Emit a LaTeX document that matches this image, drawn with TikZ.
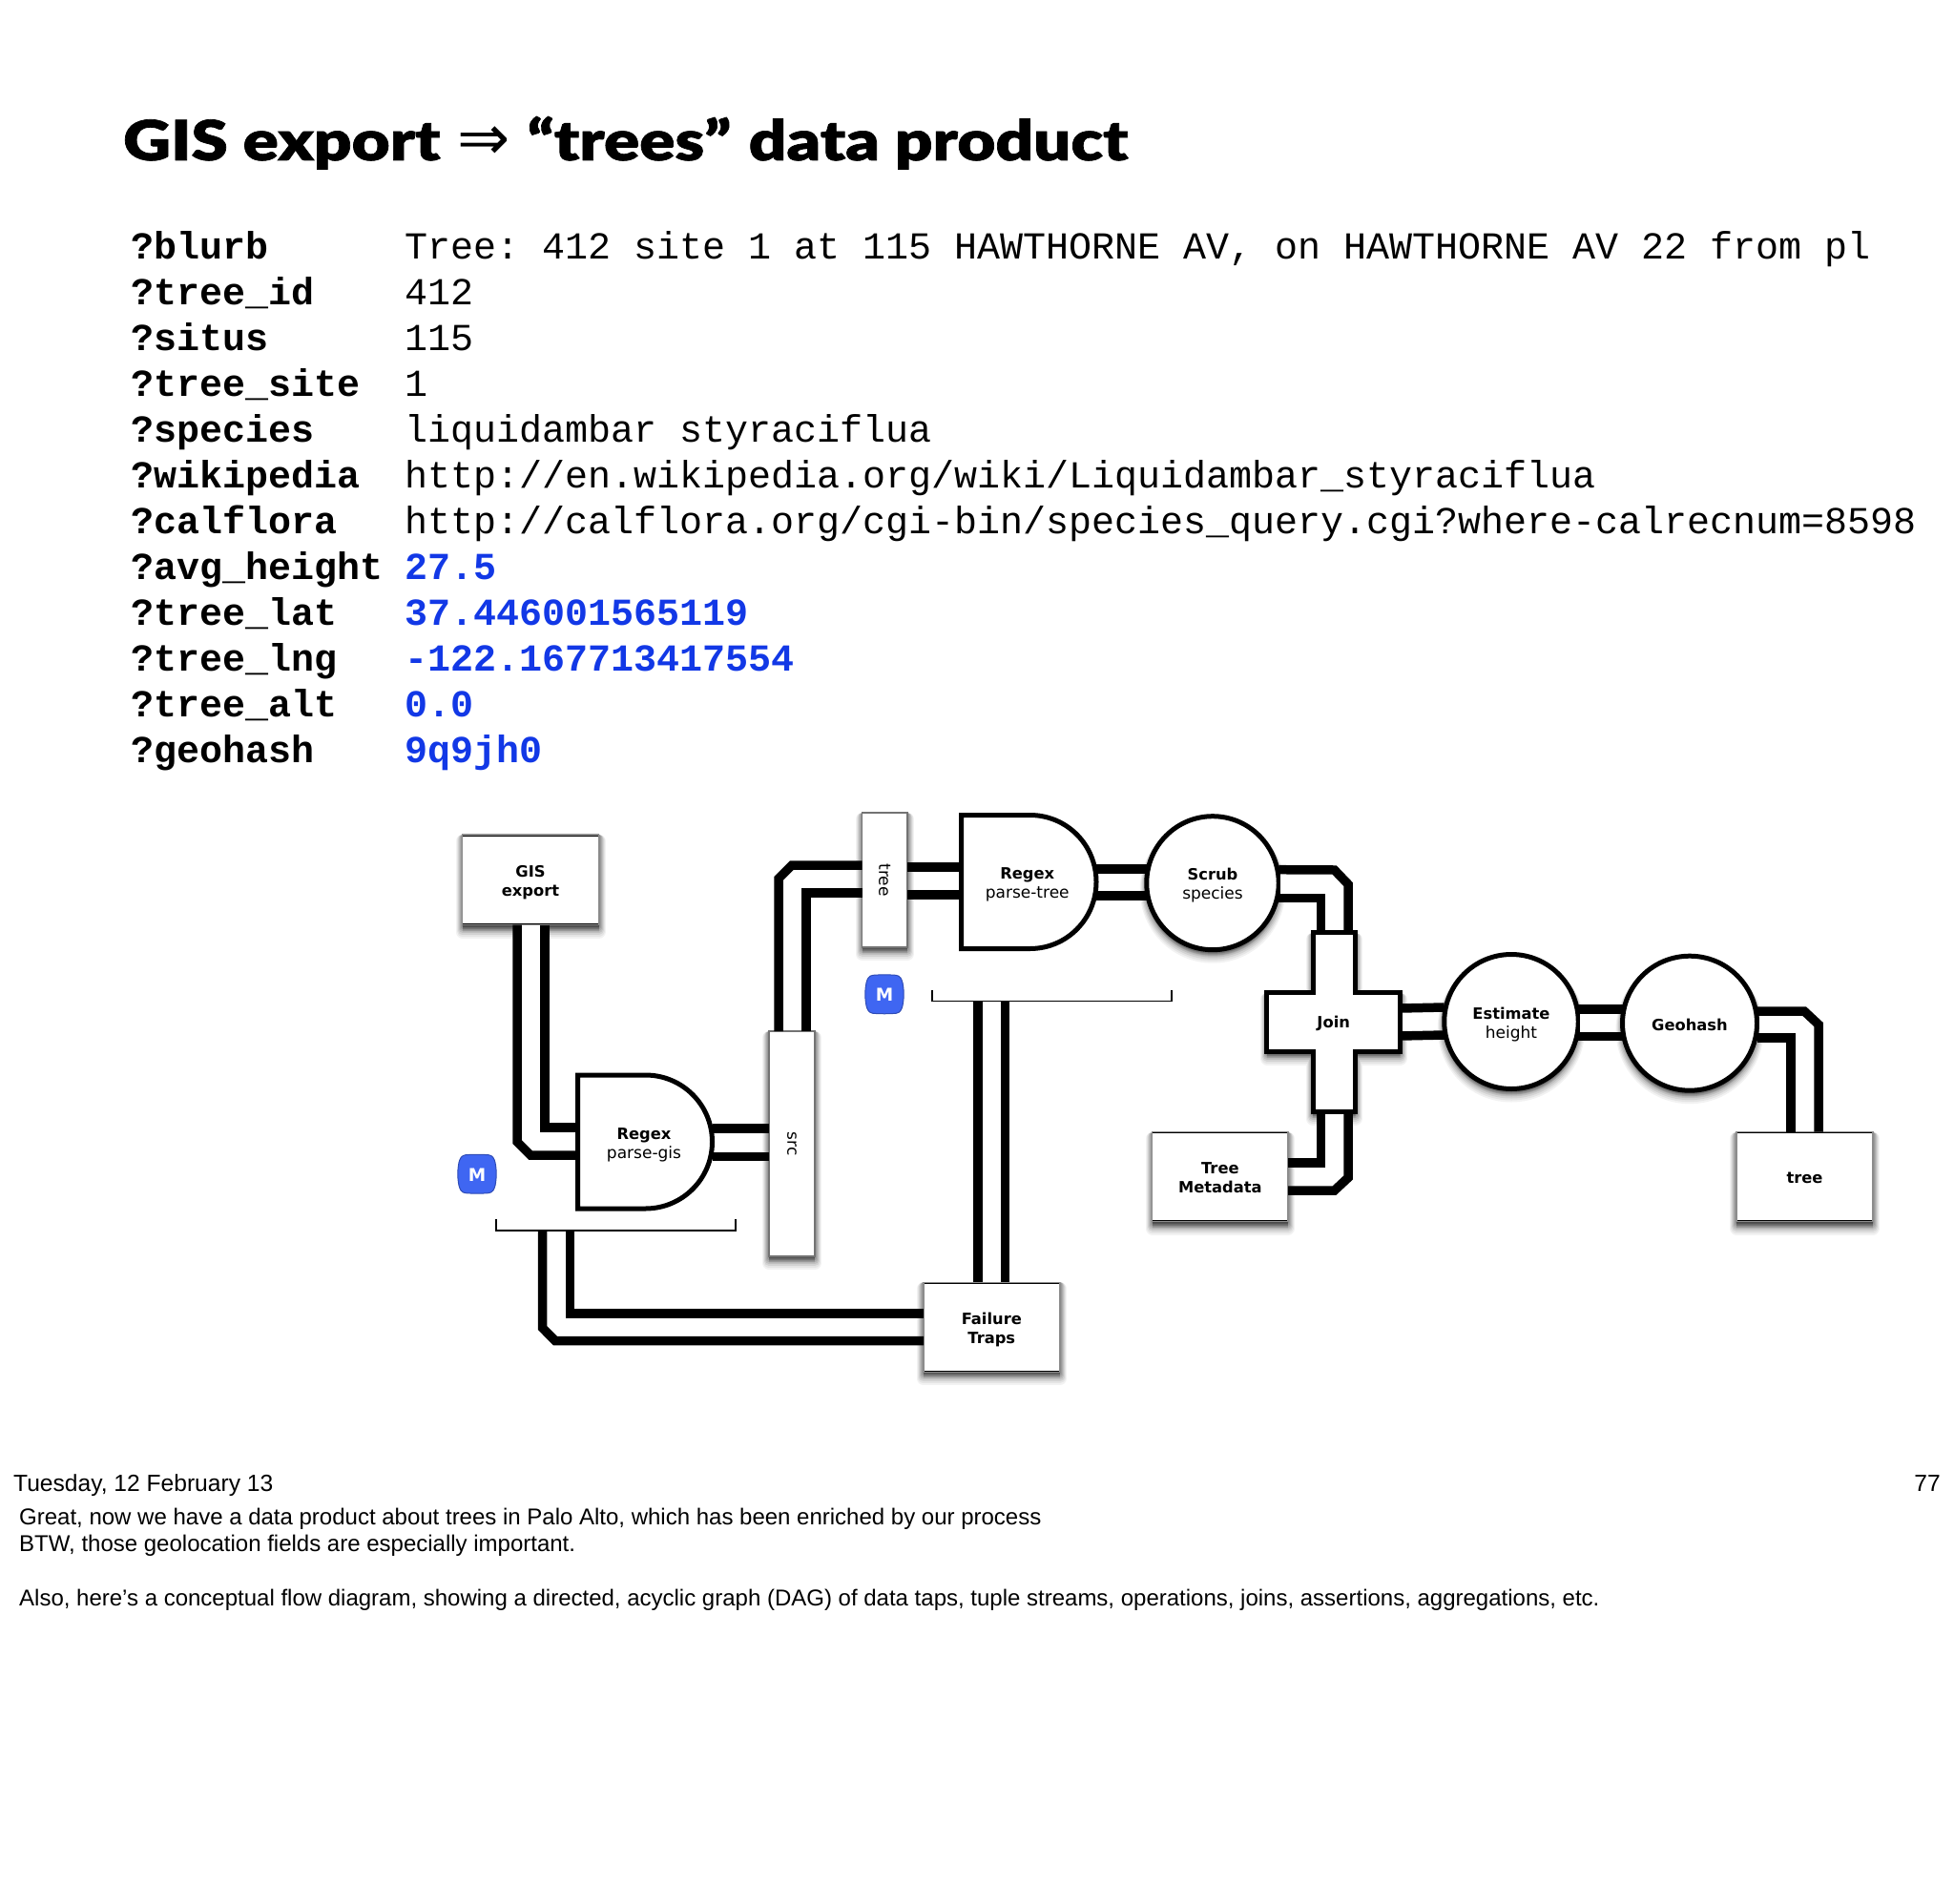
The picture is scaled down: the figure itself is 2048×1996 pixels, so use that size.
\documentclass[tikz,border=0pt]{standalone}
\usepackage{fontspec}
\setmainfont{Liberation Sans}
\usetikzlibrary{calc,shapes.geometric}
\newfontfamily\titlef[FakeStretch=1.19,FakeBold=1.2]{Lato Black}
\newfontfamily\arrowf{DejaVu Sans}
\newfontfamily\codef{Liberation Mono}
\newfontfamily\labelf{DejaVu Sans}
\definecolor{bluetext}{HTML}{1238E6}
\definecolor{badge}{HTML}{3F66F2}
\newcommand{\bl}[1]{{\bfseries\fontsize{16.3}{20}\selectfont #1}}
\newcommand{\dnone}[1]{\raisebox{-1.5pt}[\height][\depth]{#1}}
\newcommand{\dntwo}[2]{\raisebox{-3pt}[\height][\depth]{\begin{tabular}{@{}c@{}}#1\\#2\end{tabular}}}
\tikzset{
  softshadow/.style={
    preaction={fill=black,draw=black,opacity=.05,line width=14pt,line join=round,transform canvas={yshift=-7pt}},
    preaction={fill=black,draw=black,opacity=.06,line width=12pt,line join=round,transform canvas={yshift=-6pt}},
    preaction={fill=black,draw=black,opacity=.08,line width=10pt,line join=round,transform canvas={yshift=-5pt}},
    preaction={fill=black,draw=black,opacity=.09,line width=8pt,line join=round,transform canvas={yshift=-4pt}},
    preaction={fill=black,draw=black,opacity=.1,line width=6pt,line join=round,transform canvas={yshift=-3pt}},
    preaction={fill=black,draw=black,opacity=.1,line width=4pt,line join=round,transform canvas={yshift=-2pt}},
    preaction={fill=black,draw=black,opacity=.1,line width=2pt,line join=round,transform canvas={yshift=-1pt}}},
  databox/.style={rectangle,fill=white,draw=black!45,line width=1.2pt,inner sep=0,outer sep=0,softshadow,align=center,
    font=\labelf\bfseries\fontsize{16.3}{20}\selectfont,
    path picture={\draw[black,line width=3pt] (path picture bounding box.north west) -- (path picture bounding box.north east) (path picture bounding box.south west) -- (path picture bounding box.south east);}},
  tapbox/.style={rectangle,fill=white,draw=black!55,line width=1.2pt,inner sep=0,outer sep=0,softshadow,
    font=\labelf\fontsize{17}{20}\selectfont},
  opshape/.style={draw=black,fill=white,line width=5pt,line join=miter},
  opround/.style={ellipse,opshape,softshadow,inner sep=0,outer sep=0,align=center,font=\labelf\fontsize{17}{20}\selectfont},
  oplabel/.style={rectangle,inner sep=0,outer sep=0,align=center,font=\labelf\fontsize{17}{20}\selectfont},
  wire/.style={draw=black,line width=9.5pt,line join=miter,line cap=butt},
  gapfill/.style={fill=white},
  bracket/.style={draw=black,line width=1.5pt},
  brackbox/.style={rectangle,inner sep=0,outer sep=0},
  mbadge/.style={rectangle,minimum width=39pt,minimum height=39pt,inner sep=0,text=white,font=\labelf\bfseries\fontsize{18.5}{20}\selectfont},
  badgeshape/.style={fill=badge,draw=badge!75!black,line width=1pt},
  mshape/.pic={\draw[badgeshape] (-12,-20) .. controls (-4,-20.6) and (4,-20.6) .. (12,-20) .. controls (16.5,-19.5) and (18,-16) .. (19,-12) .. controls (20.6,-4) and (20.6,4) .. (19,12) .. controls (18,16) and (16.5,19.5) .. (12,20) .. controls (4,20.6) and (-4,20.6) .. (-12,20) .. controls (-16.5,19.5) and (-18,16) .. (-19,12) .. controls (-20.6,4) and (-20.6,-4) .. (-19,-12) .. controls (-18,-16) and (-16.5,-19.5) .. (-12,-20) -- cycle;},
  codelabel/.style={anchor=base west,inner sep=0,font=\codef\bfseries\fontsize{40}{48}\selectfont},
  codeval/.style={anchor=base west,inner sep=0,font=\codef\fontsize{40}{48}\selectfont},
  codeblue/.style={anchor=base west,inner sep=0,text=bluetext,font=\codef\bfseries\fontsize{40}{48}\selectfont},
  notetext/.style={anchor=base west,inner sep=0,font=\fontsize{24}{28}\selectfont},
  datetext/.style={inner sep=0,font=\fontsize{24.6}{28}\selectfont},
}
\begin{document}
\frenchspacing
\begin{tikzpicture}[x=1pt,y=-1pt]
\useasboundingbox (0,0) rectangle (2048,1996);
% title
\node[anchor=base west,inner sep=0] (title) at (129,168) {\fontsize{58}{70}\selectfont\titlef GIS export\hspace*{18pt}{\arrowf\fontsize{66}{70}\selectfont ⇒}\hspace*{18pt}“trees”\hspace*{18.5pt}data product};
% code
\node[codelabel] (l1) at (137,271) {?blurb};
\node[codelabel] (l2) at (137,319) {?tree\_id};
\node[codelabel] (l3) at (137,367) {?situs};
\node[codelabel] (l4) at (137,415) {?tree\_site};
\node[codelabel] (l5) at (137,463) {?species};
\node[codelabel] (l6) at (137,511) {?wikipedia};
\node[codelabel] (l7) at (137,559) {?calflora};
\node[codelabel] (l8) at (137,607) {?avg\_height};
\node[codelabel] (l9) at (137,655) {?tree\_lat};
\node[codelabel] (l10) at (137,703) {?tree\_lng};
\node[codelabel] (l11) at (137,751) {?tree\_alt};
\node[codelabel] (l12) at (137,799) {?geohash};
\node[codeval] (v1) at (424,271) {Tree: 412 site 1 at 115 HAWTHORNE AV, on HAWTHORNE AV 22 from pl};
\node[codeval] (v2) at (424,319) {412};
\node[codeval] (v3) at (424,367) {115};
\node[codeval] (v4) at (424,415) {1};
\node[codeval] (v5) at (424,463) {liquidambar styraciflua};
\node[codeval] (v6) at (424,511) {http://en.wikipedia.org/wiki/Liquidambar\_styraciflua};
\node[codeval] (v7) at (424,559) {http://calflora.org/cgi-bin/species\_query.cgi?where-calrecnum=8598};
\node[codeblue] (v8) at (424,607) {27.5};
\node[codeblue] (v9) at (424,655) {37.446001565119};
\node[codeblue] (v10) at (424,703) {-122.167713417554};
\node[codeblue] (v11) at (424,751) {0.0};
\node[codeblue] (v12) at (424,799) {9q9jh0};
% shapes with labels
\node[databox,minimum width=143pt,minimum height=94.6pt] (gis) at (556,922.3) {\dntwo{GIS}{export}};
\node[databox,minimum width=142.6pt,minimum height=94pt] (ft) at (1039.3,1391.4) {\dntwo{Failure}{Traps}};
\node[databox,minimum width=142.3pt,minimum height=93.9pt] (tm) at (1278.85,1233.65) {\dntwo{Tree}{Metadata}};
\node[databox,minimum width=143pt,minimum height=94pt] (tb) at (1891.5,1233.65) {\dnone{tree}};
\node[tapbox,minimum width=48pt,minimum height=236pt] (src) at (830,1199) {\rotatebox{-90}{src}};
\node[tapbox,minimum width=47.4pt,minimum height=141pt] (tr) at (927.3,922.5) {\rotatebox{-90}{tree}};
% regex shapes
\draw[opshape] (605.5,1127) -- (676.5,1127) .. controls (715.2,1127) and (746.5,1158.3) .. (746.5,1197) .. controls (746.5,1235.7) and (715.2,1267) .. (676.5,1267) -- (605.5,1267) -- cycle;
\node[oplabel,minimum width=141pt,minimum height=140pt] (rg) at (676,1197) {\hspace*{-2pt}\dntwo{\bl{Regex}}{parse-gis}};
\draw[opshape] (1007.5,854.5) -- (1079.5,854.5) .. controls (1118.2,854.5) and (1149,885.8) .. (1149,924.5) .. controls (1149,963.2) and (1118.2,994.5) .. (1079.5,994.5) -- (1007.5,994.5) -- cycle;
\node[oplabel,minimum width=141.5pt,minimum height=140pt] (rt) at (1078.25,924.5) {\hspace*{-3pt}\dntwo{\bl{Regex}}{parse-tree}};
% round ops
\node[opround,minimum width=138.5pt,minimum height=140pt] (sc) at (1271,925.7) {\dntwo{\bl{Scrub}}{species}};
\node[opround,minimum width=140.5pt,minimum height=141pt] (es) at (1584,1071) {\dntwo{\bl{Estimate}}{height}};
\node[opround,minimum width=141pt,minimum height=141pt] (gh) at (1771,1072.7) {\dnone{\bl{Geohash}}};
% join
\draw[opshape,softshadow] (1376,977.5) -- (1420.5,977.5) -- (1420.5,1040.5) -- (1467.5,1040.5) -- (1467.5,1102.5) -- (1420.5,1102.5) -- (1420.5,1165.5) -- (1376,1165.5) -- (1376,1102.5) -- (1327.9,1102.5) -- (1327.9,1040.5) -- (1376,1040.5) -- cycle;
\node[oplabel,minimum width=139.6pt,minimum height=188pt] (jn) at (1397.7,1071.5) {\dnone{\bl{Join}}};
% brackets
\node[brackbox,minimum width=251pt,minimum height=12pt] (bg) at (645.5,1284) {};
\draw[bracket] (bg.north west) -- (bg.south west) -- (bg.south east) -- (bg.north east);
\node[brackbox,minimum width=251pt,minimum height=12pt] (bt) at (1102.5,1043.6) {};
\draw[bracket] (bt.north west) -- (bt.south west) -- (bt.south east) -- (bt.north east);
% white gaps over the shadows
\fill[gapfill] ($(gis.south)+(-14,0.6)$) rectangle ($(gis.south)+(15,20)$);
\fill[gapfill] ($(jn.south)+(-13.5,2.5)$) rectangle ($(jn.south)+(15,20)$);
\fill[gapfill] ($(jn.east)+(2.5,-14.5)$) rectangle ($(jn.east)+(20,14.5)$);
\fill[gapfill] ($(sc.east)+(2,-14)$) rectangle ($(sc.east)+(20,15.9)$);
\fill[gapfill] ($(es.east)+(2,-13)$) rectangle ($(es.east)+(22,15.4)$);
\fill[gapfill] ($(gh.east)+(2,-12.7)$) rectangle ($(gh.east)+(22,15.3)$);
% connectors
\draw[wire] ($(gis.south)+(-14,0)$) -- (542,1197) -- (556,1211) -- ($(rg.west)+(0,14)$);
\draw[wire] ($(gis.south)+(15,0)$) |- ($(rg.west)+(0,-15)$);
\draw[wire] ($(rg.east)+(0,-14)$) -- ($(src.west)+(0,-16)$);
\draw[wire] ($(rg.east)+(0,15.5)$) -- ($(src.west)+(0,13.5)$);
\draw[wire] ($(src.north)+(-14,0)$) -- (816,921) -- (830,907) -- ($(tr.west)+(0,-15.5)$);
\draw[wire] ($(src.north)+(15,0)$) |- ($(tr.west)+(0,13.5)$);
\draw[wire] ($(tr.east)+(0,-13.5)$) -- ($(rt.west)+(0,-15.5)$);
\draw[wire] ($(tr.east)+(0,15.5)$) -- ($(rt.west)+(0,13.5)$);
\draw[wire] ($(rt.east)+(0,-13.5)$) -- ($(sc.west)+(0,-14.7)$);
\draw[wire] ($(rt.east)+(0,14.5)$) -- ($(sc.west)+(0,13.3)$);
\draw[wire] ($(sc.east)+(0,-14)$) -- (1398.6,912) -- (1413,927) -- ($(jn.north)+(15.3,0)$);
\draw[wire] ($(sc.east)+(0,15.9)$) -| ($(jn.north)+(-13.2,0)$);
\draw[wire] ($(jn.south)+(-13.2,0)$) |- ($(tm.east)+(0,-14.65)$);
\draw[wire] ($(jn.south)+(15.3,0)$) -- (1413,1234.6) -- (1398.6,1248) -- ($(tm.east)+(0,14.35)$);
\draw[wire] ($(jn.east)+(0,-14.5)$) -- ($(es.west)+(0,-15)$);
\draw[wire] ($(jn.east)+(0,14.5)$) -- ($(es.west)+(0,14)$);
\draw[wire] ($(es.east)+(0,-13)$) -- ($(gh.west)+(0,-14.7)$);
\draw[wire] ($(es.east)+(0,15.4)$) -- ($(gh.west)+(0,13.7)$);
\draw[wire] ($(gh.east)+(0,-12.7)$) -- (1891,1060) -- (1906,1074) -- ($(tb.north)+(14.5,0)$);
\draw[wire] ($(gh.east)+(0,15.3)$) -| ($(tb.north)+(-14.5,0)$);
\draw[wire] ($(bg.south)+(-48,0)$) |- ($(ft.west)+(0,-14.4)$);
\draw[wire] ($(bg.south)+(-77,0)$) -- (568.5,1392) -- (582,1405.6) -- ($(ft.west)+(0,14.2)$);
\draw[wire] ($(bt.south)+(-77.7,0)$) -- ($(ft.north)+(-14.5,0)$);
\draw[wire] ($(bt.south)+(-48.8,0)$) -- ($(ft.north)+(14.4,0)$);
% badges
\pic at (500,1230.7) {mshape};
\node[mbadge] (m1) at (500,1231.5) {M};
\pic at (927,1042.3) {mshape};
\node[mbadge] (m2) at (927,1043) {M};
% notes
\node[datetext,anchor=base west] (date) at (14,1563) {Tuesday, 12 February 13};
\node[datetext,anchor=base east] (page) at (2034,1563) {77};
\node[notetext] (n1) at (20,1598) {Great, now we have a data product about trees in Palo Alto, which has been enriched by our process};
\node[notetext] (n2) at (20,1626) {BTW, those geolocation fields are especially important.};
\node[notetext] (n3) at (20,1683) {Also, here’s a conceptual flow diagram, showing a directed, acyclic graph (DAG) of data taps, tuple streams, operations, joins, assertions, aggregations, etc.};
\end{tikzpicture}
\end{document}
